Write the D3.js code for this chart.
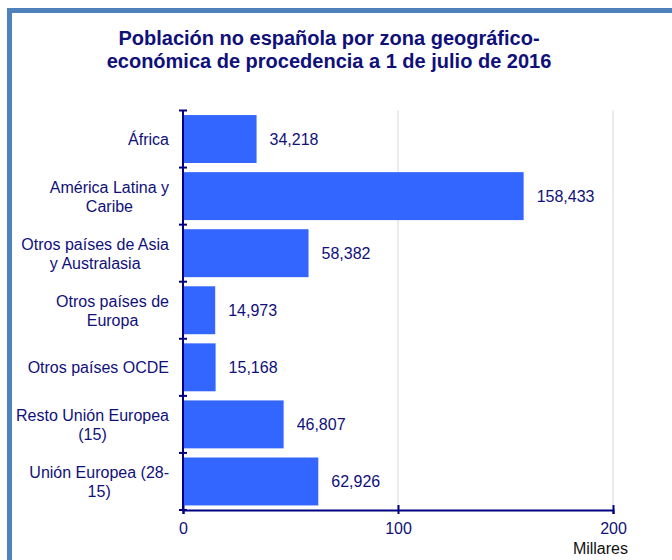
<!DOCTYPE html>
<html>
<head>
<meta charset="utf-8">
<script src="https://cdn.jsdelivr.net/npm/d3@7"></script>
<style>
  body { margin: 0; background: #fff; }
  svg text { font-family: "Liberation Sans", Arial, sans-serif; }
</style>
</head>
<body>
<svg id="chart" width="672" height="560"></svg>
<script>
var categories = [
  ["África"],
  ["América Latina y", "Caribe"],
  ["Otros países de Asia", "y Australasia"],
  ["Otros países de", "Europa"],
  ["Otros países OCDE"],
  ["Resto Unión Europea", "(15)"],
  ["Unión Europea (28-", "15)"]
];
var values = [34.218, 158.433, 58.382, 14.973, 15.168, 46.807, 62.926];
var valueLabels = ["34,218", "158,433", "58,382", "14,973", "15,168", "46,807", "62,926"];
var xTicks = [0, 100, 200];
var titleLines = ["Población no española por zona geográfico-", "económica de procedencia a 1 de julio de 2016"];

var textColor = "#10107a";
var axisColor = "#000080";
var barColor = "#3366ff";

var svg = d3.select("#chart");

// outer frame, cut off at right and bottom
svg.append("rect")
  .attr("x", 9.5).attr("y", 10.5)
  .attr("width", 700).attr("height", 600)
  .attr("fill", "none")
  .attr("stroke", "#4f81bd")
  .attr("stroke-width", 5);

svg.append("g").selectAll("text")
  .data(titleLines)
  .enter().append("text")
  .attr("x", 329)
  .attr("y", function(d, i) { return 45 + i * 23; })
  .attr("text-anchor", "middle")
  .style("font-size", "20px")
  .style("font-weight", "bold")
  .style("fill", textColor)
  .text(function(d) { return d; });

var x = d3.scaleLinear().domain([0, 200]).range([183, 613]);
var y = d3.scaleBand().domain(d3.range(categories.length)).range([110.5, 510]).paddingInner(0.16).paddingOuter(0.08);
var bandEdges = d3.range(categories.length + 1).map(function(i) {
  return 110.5 + i * (510 - 110.5) / categories.length;
});

// gridlines
svg.append("g").selectAll("line")
  .data(xTicks.slice(1))
  .enter().append("line")
  .attr("x1", function(d) { return x(d); })
  .attr("x2", function(d) { return x(d); })
  .attr("y1", 110).attr("y2", 510)
  .attr("stroke", "#d9d9d9")
  .attr("stroke-width", 1);

// bars
svg.append("g").selectAll("rect")
  .data(values)
  .enter().append("rect")
  .attr("x", x(0))
  .attr("y", function(d, i) { return y(i); })
  .attr("width", function(d) { return x(d) - x(0); })
  .attr("height", y.bandwidth())
  .attr("fill", barColor);

// value labels
svg.append("g").selectAll("text")
  .data(values)
  .enter().append("text")
  .attr("x", function(d) { return x(d) + 13; })
  .attr("y", function(d, i) { return y(i) + y.bandwidth() / 2 + 6; })
  .style("font-size", "16px")
  .style("fill", textColor)
  .text(function(d, i) { return valueLabels[i]; });

// category labels
var catG = svg.append("g").selectAll("text")
  .data(categories)
  .enter().append("text")
  .style("font-size", "16px")
  .style("fill", textColor);
catG.each(function(lines, i) {
  var cy = y(i) + y.bandwidth() / 2;
  var t = d3.select(this);
  lines.forEach(function(line, j) {
    t.append("tspan")
      .attr("x", 169)
      .attr("text-anchor", j === 0 ? "end" : "middle")
      .attr("y", cy + 6 + (j - (lines.length - 1) / 2) * 19)
      .text(line);
  });
});
// centre the second line under the first
catG.each(function(lines) {
  var spans = d3.select(this).selectAll("tspan").nodes();
  if (spans.length > 1) {
    var w = spans[0].getComputedTextLength();
    d3.select(spans[1]).attr("x", 169 - w / 2);
  }
});

// y axis
var yAxisG = svg.append("g");
yAxisG.append("line")
  .attr("x1", x(0)).attr("x2", x(0))
  .attr("y1", 110).attr("y2", 510)
  .attr("stroke", axisColor).attr("stroke-width", 2);
yAxisG.selectAll("line.tick")
  .data(bandEdges)
  .enter().append("line")
  .attr("class", "tick")
  .attr("x1", x(0) - 4).attr("x2", x(0) + 4)
  .attr("y1", function(d) { return d; })
  .attr("y2", function(d) { return d; })
  .attr("stroke", axisColor).attr("stroke-width", 2);

// x axis
var xAxis = d3.axisBottom(x).tickValues(xTicks).tickSize(4).tickPadding(9);
var xAxisG = svg.append("g")
  .attr("transform", "translate(0,510)")
  .call(xAxis);
xAxisG.select(".domain").attr("stroke", axisColor).attr("stroke-width", 2);
xAxisG.selectAll(".tick line")
  .attr("y1", -5).attr("y2", 4)
  .attr("stroke", axisColor).attr("stroke-width", 2);
xAxisG.selectAll(".tick text")
  .style("font-size", "16px")
  .style("font-family", "'Liberation Sans', Arial, sans-serif")
  .attr("fill", textColor);

svg.append("text")
  .attr("x", 628).attr("y", 554)
  .attr("text-anchor", "end")
  .style("font-size", "16px")
  .style("fill", "#111")
  .text("Millares");
</script>
</body>
</html>
